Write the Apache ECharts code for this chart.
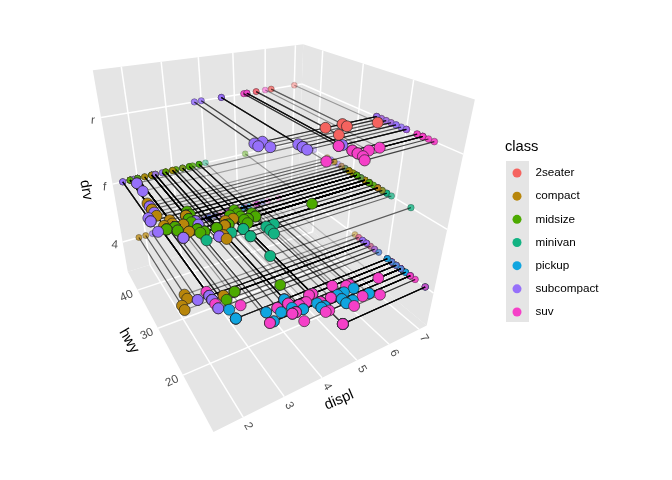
<!DOCTYPE html>
<html><head><meta charset="utf-8">
<style>html,body{margin:0;padding:0;background:#fff}#c{width:672px;height:480px}</style>
<script src="https://cdn.jsdelivr.net/npm/echarts@6/dist/echarts.min.js"></script>
</head><body><div id="c"></div>
<script>
const classes=["2seater","compact","midsize","minivan","pickup","subcompact","suv"];
const colors=["#F5635F","#B8860B","#4CAA00","#13B383","#10A5E0","#9670FA","#F540C8"];
const displTicks=[2,3,4,5,6,7];
const hwyTicks=[20,30,40];
const drvTicks=["4","f","r"];
const displ=[1.8,1.8,2,2,2.8,2.8,3.1,
1.8,1.8,2,2,2.8,2.8,3.1,3.1,
2.8,3.1,4.2,
5.3,5.3,5.3,5.7,6,
5.7,5.7,6.2,6.2,7,
5.3,5.3,5.7,6.5,
2.4,2.4,3.1,3.5,3.6,
2.4,3,3.3,3.3,3.3,3.3,3.3,3.8,3.8,3.8,4,
3.7,3.7,3.9,3.9,4.7,4.7,4.7,5.2,5.2,
3.9,4.7,4.7,4.7,5.2,5.7,5.9,
4.7,4.7,4.7,4.7,4.7,4.7,5.2,5.2,5.7,5.9,
4.6,5.4,5.4,
4,4,4,4,4.6,5,
4.2,4.2,4.6,4.6,4.6,5.4,5.4,
3.8,3.8,4,4,4.6,4.6,4.6,4.6,5.4,
1.6,1.6,1.6,1.6,1.6,1.8,1.8,1.8,2,
2.4,2.4,2.4,2.4,2.5,2.5,3.3,
2,2,2,2,2.7,2.7,2.7,
3,3.7,4,4.7,4.7,4.7,5.7,6.1,
4,4.2,4.4,4.6,
5.4,5.4,5.4,
4,4,4.6,5,
2.4,2.4,2.5,2.5,3.5,3.5,
3,3,3.5,
3.3,3.3,4,5.6,
3.1,3.8,3.8,3.8,5.3,
2.5,2.5,2.5,2.5,2.5,2.5,
2.2,2.2,2.5,2.5,2.5,2.5,2.5,2.5,
2.7,2.7,3.4,3.4,4,4.7,
2.2,2.2,2.4,2.4,3,3,3.5,
2.2,2.2,2.4,2.4,3,3,3.3,
1.8,1.8,1.8,1.8,1.8,
4.7,5.7,
2.7,2.7,2.7,3.4,3.4,4,4,
2,2,2,2,2.8,
1.9,2,2,2,2,2.5,2.5,2.8,2.8,
1.9,1.9,2,2,2.5,2.5,
1.8,1.8,2,2,2.8,2.8,3.6];
const hwy=[29,29,31,30,26,26,27,
26,25,28,27,25,25,25,25,
24,25,23,
20,15,20,17,17,
26,23,26,25,24,
19,14,15,17,
27,30,26,29,26,
24,24,22,22,24,24,17,22,21,23,23,
19,18,17,17,19,19,12,17,15,
17,17,12,17,16,18,15,
16,12,17,17,16,12,15,16,17,15,
17,17,18,
17,17,19,19,19,17,
17,17,16,16,17,15,17,
26,25,26,24,21,22,23,22,20,
33,32,32,29,32,34,36,36,29,
26,27,30,31,26,26,28,
26,29,28,29,24,24,24,
22,19,20,17,12,19,18,14,
15,18,18,15,
17,16,18,
17,19,19,17,
29,27,31,32,27,26,
26,26,25,
17,17,20,18,
26,26,27,26,25,
25,24,27,25,26,23,
26,26,26,26,25,25,25,23,
20,20,19,17,20,17,
27,29,31,31,26,26,28,
27,29,31,31,26,26,27,
30,33,35,37,35,
15,18,
20,20,22,17,19,18,20,
29,26,29,29,24,
44,29,26,29,29,29,29,23,24,
44,41,29,26,28,29,
29,29,28,29,26,26,26];
const drv=("fffffff"+"44444444"+"444"+"rrrrr"+"rrrrr"+"4444"+"fffff"+"fffffffffff"+"444444444"+"4444444"+"4444444444"+"rrr"+"444444"+"4444444"+"rrrrrrrrr"+"fffffffff"+"fffffff"+"fffffff"+"44444444"+"4444"+"rrr"+"4444"+"ffffff"+"fff"+"4444"+"fffff"+"444444"+"44444444"+"444444"+"fffffff"+"fffffff"+"fffff"+"44"+"4444444"+"fffff"+"fffffffff"+"ffffff"+"fffffff").split("");
const cls=[].concat(
 Array(7).fill(1),Array(8).fill(1),Array(3).fill(2),Array(5).fill(6),Array(5).fill(0),Array(4).fill(6),Array(5).fill(2),
 Array(11).fill(3),Array(9).fill(4),Array(7).fill(6),Array(10).fill(4),Array(3).fill(6),Array(6).fill(6),Array(7).fill(4),
 Array(9).fill(5),Array(9).fill(5),Array(7).fill(2),Array(7).fill(5),Array(8).fill(6),Array(4).fill(6),Array(3).fill(6),
 Array(4).fill(6),Array(6).fill(2),Array(3).fill(2),Array(4).fill(6),Array(5).fill(2),Array(6).fill(6),Array(8).fill(5),
 Array(6).fill(6),Array(7).fill(2),Array(7).fill(1),Array(5).fill(1),Array(2).fill(6),Array(7).fill(4),Array(5).fill(1),
 Array(9).fill(1),Array(6).fill(5),Array(7).fill(2));

const dR=[1.33,7.27], hR=[10.4,45.6], zR=[0.43,3.63];
const drvPos={"4":1,"f":2,"r":3};
const corners=[[0,0,0,213,432],[1,0,0,427,325],[0,1,0,128,272],[1,1,0,297,219],[0,1,1,93,70],[1,1,1,303,44],[1,0,1,475,100]];
function solve(){
  const n=11,A=[...Array(n)].map(()=>Array(n+1).fill(0));
  const add=(r,b)=>{for(let i=0;i<n;i++){for(let j=0;j<n;j++)A[i][j]+=r[i]*r[j];A[i][n]+=r[i]*b;}};
  corners.forEach(([u,v,w,x,y])=>{x/=500;y/=500;
    add([u,v,w,1,0,0,0,0,-x*u,-x*v,-x*w],x);
    add([0,0,0,0,u,v,w,1,-y*u,-y*v,-y*w],y);});
  for(let c=0;c<n;c++){let m=c;for(let r=c+1;r<n;r++)if(Math.abs(A[r][c])>Math.abs(A[m][c]))m=r;
    [A[c],A[m]]=[A[m],A[c]];
    for(let r=0;r<n;r++)if(r!==c){const f=A[r][c]/A[c][c];for(let k=c;k<=n;k++)A[r][k]-=f*A[c][k];}}
  return A.map((r,i)=>r[n]/r[i]);
}
const P=solve();
function uvw(u,v,w){const d=P[8]*u+P[9]*v+P[10]*w+1;
  return [500*(P[0]*u+P[1]*v+P[2]*w+P[3])/d,500*(P[4]*u+P[5]*v+P[6]*w+P[7])/d,d];}
const nd=x=>(x-dR[0])/(dR[1]-dR[0]), nh=x=>(x-hR[0])/(hR[1]-hR[0]), nz=x=>(x-zR[0])/(zR[1]-zR[0]);
const dBack=uvw(1,1,0)[2];
const depthT=d=>Math.max(0,Math.min(1,(d-1)/(dBack-1)));
const alphaOf=d=>Math.max(0.18,Math.min(1,1.08-0.95*depthT(d)));
const bigSize=d=>11.2-0.9*depthT(d);
const wallSize=d=>7-1.5*depthT(d);

// marks derived from data
const big=displ.map((x,i)=>{const u=nd(x),v=nh(hwy[i]),w=nz(drvPos[drv[i]]);const p=uvw(u,v,w);return {p,c:cls[i],u,v,w};});
const order=big.map((b,i)=>i).sort((a,b)=>big[b].p[2]-big[a].p[2]);
order.forEach((i,r)=>big[i].rank=r);
const wallPts=[],linePts=[];
big.forEach(b=>{
  [uvw(b.u,1,b.w),uvw(1,b.v,b.w)].forEach(q=>{
    const a=alphaOf(q[2]);
    wallPts.push([q[0],q[1],wallSize(q[2]),a,b.c]);
    linePts.push([q[0],q[1],b.p[0],b.p[1],a]);
  });
});

function frameItem(params,api){
  const c=(u,v,w)=>{const q=uvw(u,v,w);return api.coord([q[0],q[1]]);};
  const ch=[];
  const quad=(pts)=>ch.push({type:'polygon',shape:{points:pts},style:{fill:'#E5E5E5',stroke:null}});
  quad([c(0,0,0),c(1,0,0),c(1,1,0),c(0,1,0)]);
  quad([c(0,1,0),c(1,1,0),c(1,1,1),c(0,1,1)]);
  quad([c(1,0,0),c(1,1,0),c(1,1,1),c(1,0,1)]);
  const ln=(a,b)=>ch.push({type:'line',shape:{x1:a[0],y1:a[1],x2:b[0],y2:b[1]},style:{stroke:'#fff',lineWidth:1.5}});
  displTicks.forEach(t=>{const u=nd(t);ln(c(u,0,0),c(u,1,0));ln(c(u,1,0),c(u,1,1));});
  hwyTicks.forEach(t=>{const v=nh(t);ln(c(0,v,0),c(1,v,0));ln(c(1,v,0),c(1,v,1));});
  drvTicks.forEach(t=>{const w=nz(drvPos[t]);ln(c(0,1,w),c(1,1,w));ln(c(1,0,w),c(1,1,w));});
  const tx=(s,p,dx,dy,rot,size,fill)=>ch.push({type:'text',x:p[0]+dx,y:p[1]+dy,rotation:rot*Math.PI/180,
    style:{text:s,fill:fill,font:size+'px "Liberation Sans"',align:'center',verticalAlign:'middle'}});
  displTicks.forEach(t=>tx(String(t),c(nd(t),0,0),5,9,-60,11.7,'#4D4D4D'));
  hwyTicks.forEach(t=>tx(String(t),c(0,nh(t),0),-11,6,25,11.7,'#4D4D4D'));
  drvTicks.forEach(t=>tx(t,c(0,1,nz(drvPos[t])),-8,3,-4,11.7,'#4D4D4D'));
  const abs=(s,x,y,rot)=>tx(s,api.coord([x,y]),0,0,rot,14.7,'#000');
  abs('displ',339,400,23);abs('hwy',129,341,-60);abs('drv',86,190,-80);
  return {type:'group',children:ch};
}
const pointSeries=classes.map((name,k)=>({
  name,type:'custom',coordinateSystem:'cartesian2d',z:5,silent:true,animation:false,clip:false,
  itemStyle:{color:colors[k]},
  encode:{x:0,y:1},
  data:big.filter(b=>b.c===k).map(b=>[b.p[0],b.p[1],bigSize(b.p[2]),b.rank]),
  renderItem(params,api){const p=api.coord([api.value(0),api.value(1)]);
    return {type:'circle',z2:api.value(3),shape:{cx:p[0],cy:p[1],r:api.value(2)/2},
      style:{fill:colors[k],stroke:'rgba(30,30,30,0.8)',lineWidth:0.8}};}
}));
const chart=echarts.init(document.getElementById('c'),null,{renderer:'canvas'});
chart.setOption({
  animation:false,backgroundColor:'#fff',
  grid:{left:0,right:0,top:0,bottom:0},
  xAxis:{type:'value',min:0,max:672,show:false},
  yAxis:{type:'value',min:0,max:480,inverse:true,show:false},
  title:{text:'class',left:505,top:139,padding:0,textStyle:{fontFamily:'Liberation Sans',fontSize:14.7,fontWeight:'normal',color:'#000'}},
  legend:{orient:'vertical',left:512.5,top:166,padding:0,itemWidth:9,itemHeight:9,itemGap:9.17,itemStyle:{borderWidth:0},
    icon:'circle',selectedMode:false,data:classes,
    textStyle:{fontFamily:'Liberation Sans',fontSize:11.7,color:'#000',padding:[0,0,0,9],lineHeight:14}},
  graphic:[{type:'rect',z:-1,silent:true,shape:{x:506,y:161,width:23,height:161},style:{fill:'#E5E5E5'}}],
  series:[
    {name:'frame',type:'custom',coordinateSystem:'cartesian2d',z:1,silent:true,animation:false,clip:false,data:[[0,0]],encode:{x:0,y:1},renderItem:frameItem},
    {name:'walls',type:'custom',coordinateSystem:'cartesian2d',z:2,silent:true,animation:false,clip:false,data:wallPts,encode:{x:0,y:1},
      renderItem(params,api){const p=api.coord([api.value(0),api.value(1)]);const a=api.value(3);
        return {type:'circle',shape:{cx:p[0],cy:p[1],r:api.value(2)/2},
          style:{fill:colors[api.value(4)],opacity:a,stroke:'rgba(30,30,30,0.6)',lineWidth:0.6}};}},
    {name:'links',type:'custom',coordinateSystem:'cartesian2d',z:3,silent:true,animation:false,clip:false,data:linePts,encode:{x:[0,2],y:[1,3]},
      renderItem(params,api){const a=api.coord([api.value(0),api.value(1)]),b=api.coord([api.value(2),api.value(3)]);
        return {type:'line',shape:{x1:a[0],y1:a[1],x2:b[0],y2:b[1]},
          style:{stroke:'#000',opacity:api.value(4)*0.75,lineWidth:1.15}};}},
    ...pointSeries
  ]
});
</script></body></html>
